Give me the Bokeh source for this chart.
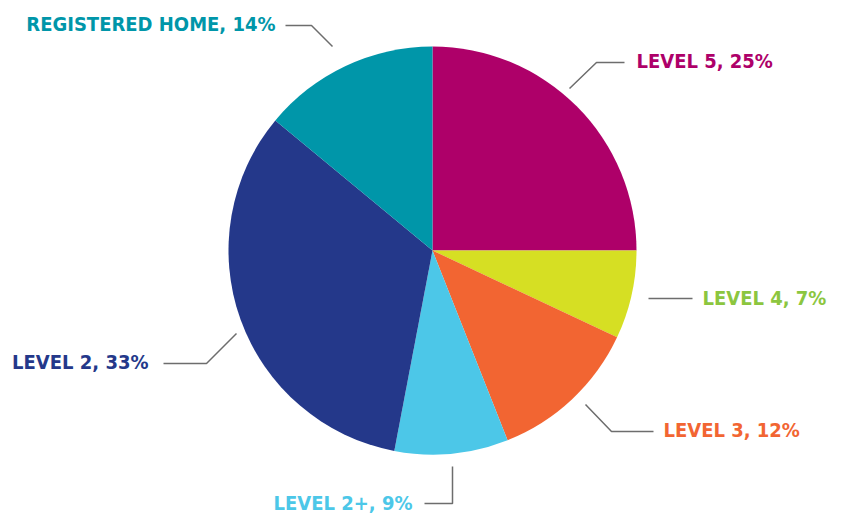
import numpy as np
from bokeh.plotting import figure
from bokeh.models import Range1d, ColumnDataSource
from bokeh.core.properties import value
from bokeh.embed import file_html
from bokeh.resources import INLINE

# ---- data ----
categories = ["LEVEL 5", "LEVEL 4", "LEVEL 3", "LEVEL 2+", "LEVEL 2", "REGISTERED HOME"]
shares = [25, 7, 12, 9, 33, 14]
slice_colors = ["#AE0069", "#D6DF23", "#F26532", "#4CC7E8", "#24388A", "#0096A9"]
label_colors = ["#AE0069", "#8CC63F", "#F26532", "#4CC7E8", "#24388A", "#0096A9"]

# ---- layout (reference image pixel coordinates) ----
PW, PH = 828, 515
cx, cy, R = 432, 250, 204
# text anchor x, baseline y, align
label_pos = [(636, 60, "left"), (702, 297, "left"), (663, 429, "left"),
             (412, 502, "right"), (148, 361, "right"), (275, 23, "right")]
leaders = [[(569, 88), (596, 62), (624, 62)],
           [(648, 298), (692, 298)],
           [(585, 404), (611, 431), (653, 431)],
           [(452, 466), (452, 503), (424, 503)],
           [(236, 333), (206, 363), (163, 363)],
           [(332, 46), (311, 25), (285, 25)]]

FONT = "'DejaVu Sans Condensed', 'Roboto Condensed', Roboto, sans-serif"

def fy(v):
    return PH - v

p = figure(width=PW, height=PH, output_backend="svg", toolbar_location=None,
           x_range=Range1d(0, PW), y_range=Range1d(0, PH), min_border=0)
p.axis.visible = False
p.grid.visible = False
p.outline_line_color = None
p.background_fill_color = "white"
p.border_fill_color = "white"

frac = np.array(shares, dtype=float) / sum(shares)
cum = np.concatenate([[0], np.cumsum(frac)])
start = np.pi / 2 - 2 * np.pi * cum[:-1]
end = np.pi / 2 - 2 * np.pi * cum[1:]

src = ColumnDataSource(dict(start=start, end=end, color=slice_colors))
p.wedge(x=cx, y=fy(cy), radius=R, start_angle="start", end_angle="end",
        direction="clock", fill_color="color", line_color=None, source=src)

for pts in leaders:
    p.line([q[0] for q in pts], [fy(q[1]) for q in pts], line_color="#6d6d6d", line_width=1.5)

for cat, s, col, (lx, ly, al) in zip(categories, shares, label_colors, label_pos):
    p.text(x=[lx], y=[fy(ly)], text=[f"{cat}, {s}%"], text_color=col,
           text_font=value(FONT), text_font_style="bold",
           text_font_size="20px", text_align=al, text_baseline="alphabetic")

open("out.html", "w").write(file_html(p, INLINE))
